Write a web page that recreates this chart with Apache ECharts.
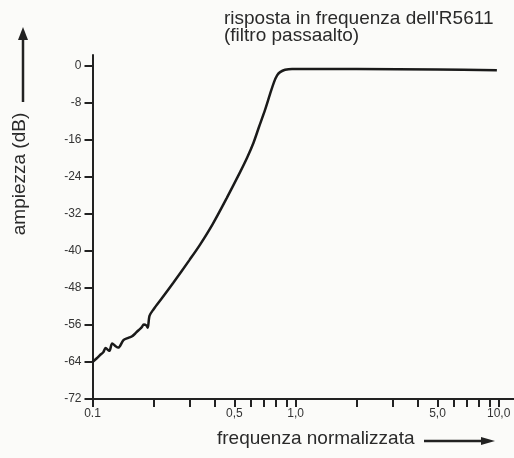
<!DOCTYPE html>
<html>
<head>
<meta charset="utf-8">
<script src="https://cdn.jsdelivr.net/npm/echarts@6/dist/echarts.min.js"></script>
<style>
  html, body { margin: 0; padding: 0; background: #fbfbf9; }
  #chart { width: 514px; height: 458px; }
</style>
</head>
<body>
<div id="chart"></div>
<script>
// Normalised frequency (f / fc) and measured amplitude in dB
const freq = [0.1, 0.105, 0.109, 0.113, 0.116, 0.121, 0.125, 0.13, 0.134, 0.142, 0.15, 0.156,
  0.162, 0.168, 0.174, 0.179, 0.184, 0.187, 0.191, 0.2, 0.22, 0.25, 0.3, 0.338, 0.392, 0.458,
  0.533, 0.577, 0.62, 0.661, 0.708, 0.749, 0.784, 0.811, 0.839, 0.888, 0.961, 2.0, 5.0, 9.8];
const ampDb = [-64.0, -63.2, -62.5, -61.9, -61.0, -61.6, -60.0, -60.6, -60.9, -59.3, -58.8, -58.5,
  -57.9, -57.2, -56.6, -55.9, -56.1, -56.6, -54.0, -52.6, -50.2, -46.9, -42.0, -38.7, -34.1, -28.6,
  -23.0, -19.9, -16.7, -13.2, -9.5, -6.1, -3.5, -2.1, -1.4, -0.9, -0.7, -0.75, -0.85, -1.0];

// Axis ticks and labels
const xTickValues = [0.1, 0.2, 0.3, 0.4, 0.5, 0.6, 0.7, 0.8, 0.9, 1, 2, 3, 4, 5, 6, 7, 8, 9, 10];
const xLabelValues = [0.1, 0.5, 1, 5, 10];
const xLabelTexts = ['0.1', '0,5', '1,0', '5,0', '10,0'];
const yTickValues = [0, -8, -16, -24, -32, -40, -48, -56, -64, -72];

const titleText = "risposta in frequenza dell'R5611\n(filtro passaalto)";
const yName = 'ampiezza (dB)';
const xName = 'frequenza normalizzata';

const FONT = '"Liberation Sans", Arial, sans-serif';
const INK = '#222';

const chart = echarts.init(document.getElementById('chart'), null, { renderer: 'canvas' });

const points = freq.map((f, i) => [f, ampDb[i]]);

chart.setOption({
  backgroundColor: '#fbfbf9',
  animation: false,
  title: {
    text: titleText,
    left: 224,
    top: 10,
    padding: 0,
    textStyle: { fontFamily: FONT, fontSize: 19, fontWeight: 'normal', color: '#2a2a2a', lineHeight: 17 }
  },
  grid: { left: 92.5, right: 0, top: 55, bottom: 59, containLabel: false },
  xAxis: {
    type: 'log',
    logBase: 10,
    min: 0.1,
    max: 11.9,
    axisLine: { onZero: false, lineStyle: { color: INK, width: 2 } },
    axisTick: { show: true, length: 8, inside: false, customValues: xTickValues, lineStyle: { color: INK, width: 2 } },
    axisLabel: {
      customValues: xLabelValues,
      margin: 9,
      fontFamily: FONT,
      fontSize: 12,
      color: '#333',
      formatter: (v) => {
        const k = xLabelValues.findIndex(x => Math.abs(x - v) < 1e-9);
        return k >= 0 ? xLabelTexts[k] : '';
      }
    },
    splitLine: { show: false },
    minorTick: { show: false },
    minorSplitLine: { show: false }
  },
  yAxis: {
    type: 'value',
    min: -72,
    max: 2.3,
    axisLine: { onZero: false, lineStyle: { color: INK, width: 2 } },
    axisTick: { show: true, length: 8, inside: false, customValues: yTickValues, lineStyle: { color: INK, width: 2 } },
    axisLabel: {
      customValues: yTickValues,
      margin: 11,
      fontFamily: FONT,
      fontSize: 12,
      color: '#333',
      formatter: (v) => String(v)
    },
    splitLine: { show: false }
  },
  series: [{
    type: 'line',
    data: points,
    smooth: 0.3,
    showSymbol: false,
    lineStyle: { color: '#1a1a1a', width: 2.5 },
    silent: true
  }],
  graphic: [
    // vertical axis title with upward arrow
    {
      type: 'text',
      x: 20, y: 174,
      rotation: Math.PI / 2,
      style: { text: yName, x: 0, y: 0, align: 'center', verticalAlign: 'middle', font: '19px ' + FONT, fill: '#2a2a2a' }
    },
    { type: 'line', shape: { x1: 23, y1: 102, x2: 23, y2: 38 }, style: { stroke: INK, lineWidth: 2.5 } },
    { type: 'polygon', shape: { points: [[18, 40], [28, 40], [23, 27]] }, style: { fill: INK } },
    // horizontal axis title with rightward arrow
    {
      type: 'text',
      x: 217, y: 438.5,
      style: { text: xName, x: 0, y: 0, align: 'left', verticalAlign: 'middle', font: '19px ' + FONT, fill: '#2a2a2a' }
    },
    { type: 'line', shape: { x1: 424, y1: 441, x2: 484, y2: 441 }, style: { stroke: INK, lineWidth: 2.5 } },
    { type: 'polygon', shape: { points: [[481, 437], [481, 445], [495, 441]] }, style: { fill: INK } }
  ]
});
</script>
</body>
</html>
